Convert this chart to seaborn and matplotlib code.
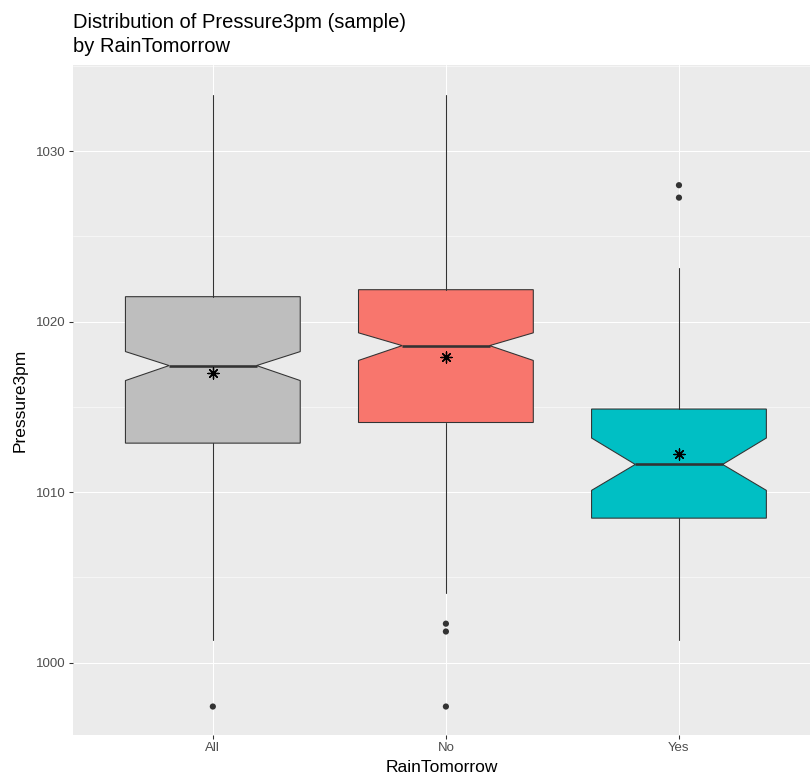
import matplotlib
matplotlib.use("Agg")
import matplotlib.pyplot as plt
import seaborn as sns
import pandas as pd
from matplotlib.ticker import MultipleLocator, FixedLocator

# ---- data ----
categories = ["All", "No", "Yes"]
whislo = [1001.35, 1004.10, 1001.35]
q1 = [1012.87, 1014.08, 1008.47]
med = [1017.42, 1018.59, 1011.62]
q3 = [1021.46, 1021.87, 1014.87]
whishi = [1033.30, 1033.30, 1023.17]
cilo = [1016.54, 1017.72, 1010.10]
cihi = [1018.24, 1019.34, 1013.17]
means = [1016.97, 1017.91, 1012.21]
outlier_cat = ["All", "No", "No", "No", "Yes", "Yes"]
outlier_val = [997.42, 1002.28, 1001.82, 997.42, 1028.00, 1027.27]
fill_colors = ["#BEBEBE", "#F8766D", "#00BFC4"]

sns.set_theme(style="darkgrid")
plt.rcParams["font.family"] = ["Liberation Sans", "DejaVu Sans"]

DPI = 100
fig = plt.figure(figsize=(8.10, 7.81), dpi=DPI)
ax = fig.add_axes([73 / 810, 46 / 781, 1 - 73 / 810, (735 - 65) / 781])
ax.set_facecolor("#EBEBEB")

px = 72 / DPI  # points per pixel

stats = []
for i, c in enumerate(categories):
    stats.append(dict(label=c, whislo=whislo[i], q1=q1[i], med=med[i], q3=q3[i],
                      whishi=whishi[i], cilo=cilo[i], cihi=cihi[i], fliers=[]))

bp = ax.bxp(stats, positions=list(range(len(categories))), widths=0.75,
            patch_artist=True, shownotches=True, showcaps=False, showfliers=False,
            boxprops=dict(edgecolor="#333333", linewidth=1.07 * px),
            medianprops=dict(color="#333333", linewidth=2.6 * px, solid_capstyle="butt"),
            whiskerprops=dict(color="#333333", linewidth=1.07 * px),
            zorder=2)
for patch, col in zip(bp["boxes"], fill_colors):
    patch.set_facecolor(col)

out_df = pd.DataFrame({"cat": outlier_cat, "val": outlier_val})
out_df["pos"] = out_df["cat"].map({c: i for i, c in enumerate(categories)})
sns.scatterplot(data=out_df, x="pos", y="val", ax=ax, color="#333333",
                s=(6.2 * px) ** 2, edgecolor="none", zorder=3)

mean_df = pd.DataFrame({"pos": list(range(len(categories))), "val": means})
sns.scatterplot(data=mean_df, x="pos", y="val", ax=ax, color="black",
                marker=(8, 2, 0), s=(11 * px) ** 2, linewidth=1.3 * px,
                edgecolor="black", zorder=4)

ax.set_xlim(-0.6, 2 + (810 - 679) / 233)
ax.set_ylim(995.75, 1035.05)
ax.xaxis.set_major_locator(FixedLocator(range(len(categories))))
ax.set_xticklabels(categories)
ax.yaxis.set_major_locator(MultipleLocator(10))
ax.yaxis.set_minor_locator(MultipleLocator(5))
ax.grid(which="major", color="white", linewidth=1.07 * px)
ax.grid(which="minor", axis="y", color="white", linewidth=0.55 * px)
ax.grid(which="minor", axis="x", visible=False)
ax.set_axisbelow(True)
for s in ax.spines.values():
    s.set_visible(False)

ax.tick_params(axis="both", which="major", length=3.7 * px, width=1.07 * px,
               color="#333333", labelcolor="#4D4D4D", labelsize=9.5, pad=2.4,
               bottom=True, left=True)
ax.tick_params(axis="both", which="minor", length=0, left=False, bottom=False)

ax.set_xlabel("RainTomorrow", fontsize=12.5, color="black", labelpad=4)
ax.set_ylabel("Pressure3pm", fontsize=12.5, color="black", labelpad=6)

fig.text(73 / 810, 1 - 13 / 781, "Distribution of Pressure3pm (sample)\nby RainTomorrow",
         ha="left", va="top", fontsize=14.5, color="black", linespacing=1.3)

fig.savefig("out.png", dpi=DPI)
